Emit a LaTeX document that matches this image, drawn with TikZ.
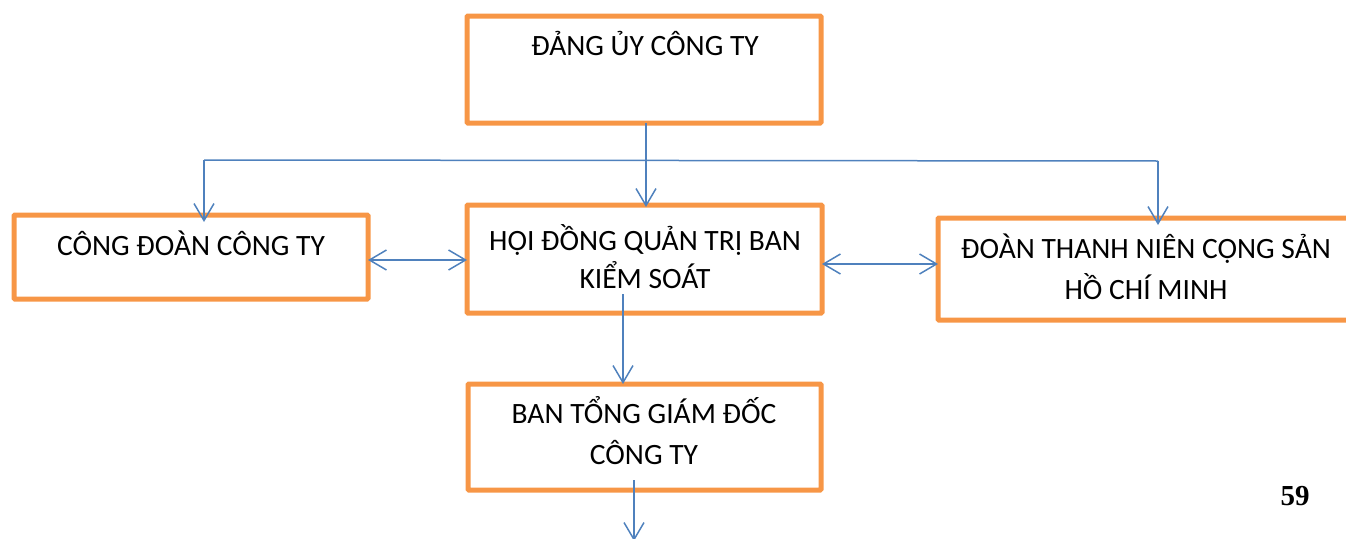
\documentclass[tikz,border=0pt]{standalone}
\usepackage{fontspec}
\setmainfont{Carlito}
\newfontfamily\numfont{Liberation Serif}
\usetikzlibrary{arrows.meta}
\definecolor{boxorange}{HTML}{F79646}
\definecolor{linkblue}{HTML}{4F81BD}
\tikzset{
  orgbox/.style={draw=boxorange, line width=5pt, rounded corners=1pt, minimum width=#1, inner sep=0pt, outer sep=0pt},
  lbl/.style={anchor=base, align=center, inner sep=0pt, font=\fontsize{29.5}{#1}\selectfont},
  lbl/.default=41,
  link/.style={draw=linkblue, line width=1.5pt},
  tip/.style={-{Straight Barb[length=17pt,width=20pt,line width=1.5pt]}},
  dtip/.style={{Straight Barb[length=17pt,width=20pt,line width=1.5pt]}-{Straight Barb[length=17pt,width=20pt,line width=1.5pt]}}
}
\begin{document}
\begin{tikzpicture}[x=1pt,y=-1pt]
\useasboundingbox (0,0) rectangle (1346,538);
% boxes
\node[orgbox=354pt, minimum height=107pt] (top) at (644,69.5) {};
\node[orgbox=354pt, minimum height=84pt] (left) at (191,257) {};
\node[orgbox=355pt, minimum height=108pt] (mid) at (644.5,259) {};
\node[orgbox=416pt, minimum height=102pt] (right) at (1146,269) {};
\node[orgbox=353pt, minimum height=106pt] (bot) at (644.5,437) {};
% labels (base anchor = baseline of the last line)
\node[lbl] (ttop) at (645,55) {ĐẢNG ỦY CÔNG TY};
\node[lbl] (tleft) at (191,255) {CÔNG ĐOÀN CÔNG TY};
\node[lbl=38] (tmid) at (645,288) {HỘI ĐỒNG QUẢN TRỊ BAN\\KIỂM SOÁT};
\node[lbl=41] (tright) at (1146,299) {ĐOÀN THANH NIÊN CỘNG SẢN\\HỒ CHÍ MINH};
\node[lbl=41] (tbot) at (644,464) {BAN TỔNG GIÁM ĐỐC\\CÔNG TY};
\node[anchor=base, inner sep=0pt, font=\numfont\bfseries\fontsize{29}{34}\selectfont] (page) at (1295,505) {59};
% connector points
\coordinate (hl) at (204,160);
\coordinate (hr) at (1158,161);
\coordinate (ms) at (623,294);
\coordinate (bs) at (634,480);
\coordinate (be) at (634,541);
% connectors
\draw[link] (hl) -- (hr);
\draw[link,tip] (top.south -| 646,0) -- (646,207);
\draw[link,tip] (hl) -- (204,222);
\draw[link,tip] (hr) -- (1158,225);
\draw[link,dtip] (left.east |- 0,260) -- (mid.west |- 0,260);
\draw[link,dtip] (mid.east |- 0,264) -- (right.west |- 0,264);
\draw[link,tip] (ms) -- (ms |- bot.north);
\draw[link,tip] (bs) -- (be);
\end{tikzpicture}
\end{document}
